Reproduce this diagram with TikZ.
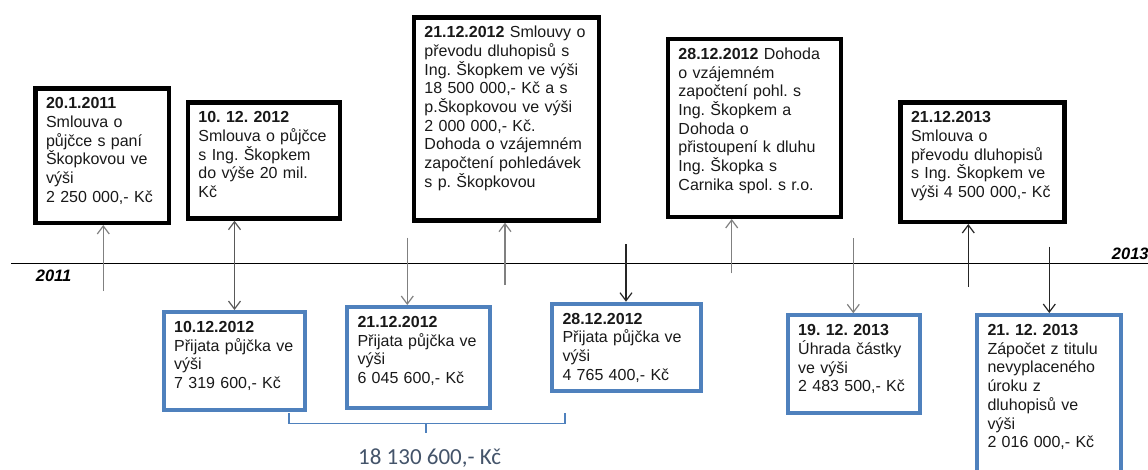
\documentclass[tikz,border=0pt]{standalone}
\usepackage{fontspec}
\setmainfont{Liberation Sans}
\newfontfamily\calibrifont{Carlito}
\usetikzlibrary{arrows.meta}
\definecolor{boxblue}{RGB}{79,129,189}
\definecolor{sumgray}{RGB}{68,84,106}
\frenchspacing

\begin{document}
\begin{tikzpicture}[x=1pt, y=-1pt,
    box/.style={anchor=north west, align=left, inner xsep=10.5pt, inner ysep=8pt,
      text height=12.5pt, text=black!90, font=\fontsize{16}{18.7}\selectfont},
    blackbox/.style={box, draw=black, line width=4.5pt},
    bluebox/.style={box, draw=boxblue, line width=4pt},
    link/.style={line width=1.2pt, draw=black!50, -{Straight Barb[length=8pt,width=12pt]}},
    darklink/.style={link, draw=black!85},
    year/.style={anchor=base west, inner sep=0pt, font=\fontsize{16.5}{20}\selectfont\bfseries\itshape}]
  \useasboundingbox (0,0) rectangle (1148,469);

  % time axis
  \draw[line width=1.3pt] (11,263.5) -- (1148,263.5);
  \node[year] (y2011) at (35.7,281.7) {2011};
  \node[year] (y2013) at (1111.7,259.3) {2013};

  % smlouvy nad osou
  \node[blackbox, text width=112.2pt, text depth=106pt] (s1) at (33.3,86)
    {\textbf{20.1.2011}\\Smlouva o\\půjčce s paní\\Škopkovou ve\\výši\\2 250 000,- Kč};
  \node[blackbox, text width=131.1pt, text depth=87.7pt] (s2) at (185.7,100)
    {\textbf{10. 12. 2012}\\Smlouva o půjčce\\s Ing. Škopkem\\do výše 20 mil.\\Kč};
  \node[blackbox, text width=163.8pt, text depth=174.7pt] (s3) at (411.7,15)
    {\textbf{21.12.2012} Smlouvy o\\převodu dluhopisů s\\Ing. Škopkem ve výši\\18 500 000,- Kč a s\\p.Škopkovou ve výši\\2 000 000,- Kč.\\Dohoda o vzájemném\\započtení pohledávek\\s p. Škopkovou};
  \node[blackbox, text width=152.1pt, text depth=149.3pt] (s4) at (665.7,36.7)
    {\textbf{28.12.2012} Dohoda\\o vzájemném\\započtení pohl. s\\Ing. Škopkem a\\Dohoda o\\přistoupení k dluhu\\Ing. Škopka s\\Carnika spol. s r.o.};
  \node[blackbox, text width=142.9pt, text depth=91pt] (s5) at (898.3,100)
    {\textbf{21.12.2013}\\Smlouva o\\převodu dluhopisů\\s Ing. Škopkem ve\\výši 4 500 000,- Kč};

  % platby pod osou
  \node[bluebox, text width=120.6pt, text depth=69.8pt] (p1) at (161.7,310)
    {\textbf{10.12.2012}\\Přijata půjčka ve\\výši\\7 319 600,- Kč};
  \node[bluebox, text width=122.3pt, text depth=72.5pt] (p2) at (345,305)
    {\textbf{21.12.2012}\\Přijata půjčka ve\\výši\\6 045 600,- Kč};
  \node[bluebox, text width=127.7pt, text depth=59.1pt] (p3) at (550,301.7)
    {\textbf{28.12.2012}\\Přijata půjčka ve\\výši\\4 765 400,- Kč};
  \node[bluebox, text width=111.6pt, text depth=69.2pt] (p4) at (785.7,313.3)
    {\textbf{19. 12. 2013}\\Úhrada částky\\ve výši\\2 483 500,- Kč};
  \node[bluebox, text width=123pt, text depth=137.5pt] (p5) at (975,313)
    {\textbf{21. 12. 2013}\\Zápočet z titulu\\nevyplaceného\\úroku z\\dluhopisů ve\\výši\\2 016 000,- Kč};

  % sipky
  \foreach \n/\x/\y in {s1/103.3/291, s3/505/285, s4/731.7/273.3}{
    \coordinate (\n0) at (\x,\y);
    \draw[link] (\n0) -- (\n0 |- \n.south);
  }
  \coordinate (s50) at (968.3,286.7);
  \draw[darklink] (s50) -- (s50 |- s5.south);
  \draw[link, draw=black!65, {Straight Barb[length=8pt,width=12pt]}-{Straight Barb[length=8pt,width=12pt]}]
    (p1.north |- s2.south) -- (p1.north);
  \foreach \n/\x/\y in {p2/407.3/237.7, p4/853.3/238.3}{
    \coordinate (\n0) at (\x,\y);
    \draw[link] (\n0) -- (\n0 |- \n.north);
  }
  \foreach \n/\x/\y in {p3/626/244, p5/1049.3/246.7}{
    \coordinate (\n0) at (\x,\y);
    \draw[darklink] (\n0) -- (\n0 |- \n.north);
  }

  % soucet
  \draw[boxblue, line width=1.5pt] (289,413.3) -- (289,423.3) -- (565,423.3) -- (565,413.3)
    (426,423.3) -- (426,433.3);
  \node[anchor=base west, inner sep=0pt, text=sumgray, font=\calibrifont\fontsize{23}{28}\selectfont]
    (total) at (358,464.5) {18 130 600,- Kč};
\end{tikzpicture}
\end{document}
